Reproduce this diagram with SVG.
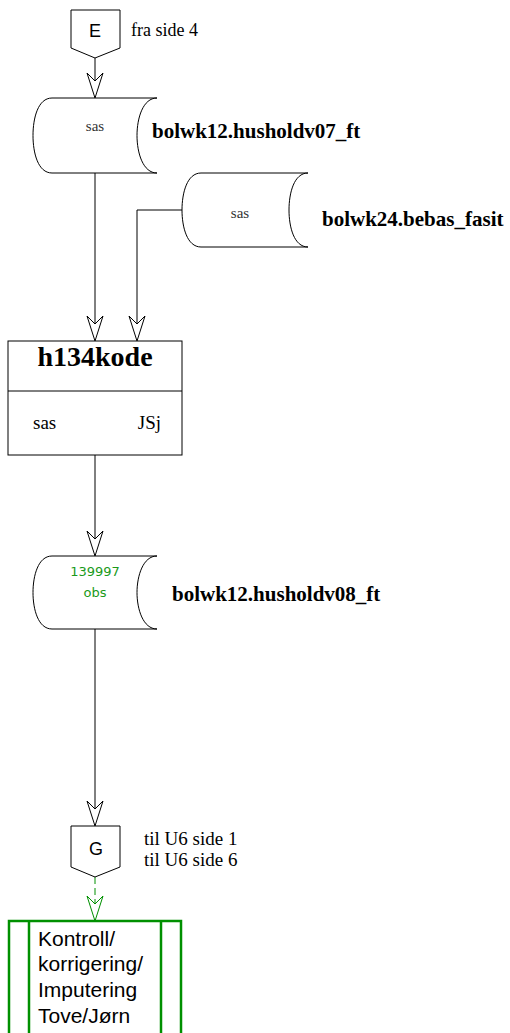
<svg xmlns="http://www.w3.org/2000/svg" width="510" height="1033" viewBox="0 0 510 1033">
<defs>
<style>
.sh{fill:#fff;stroke:#000;stroke-width:1}
.ln{fill:none;stroke:#000;stroke-width:1}
.gln{fill:none;stroke:#009000;stroke-width:1;stroke-dasharray:7,4}
.ah{fill:#fff;stroke:#000;stroke-width:1}
.gah{fill:#fff;stroke:#009000;stroke-width:1}
.serif{font-family:"Liberation Serif","Times New Roman",serif;fill:#000}
.sans{font-family:"Liberation Sans",Arial,sans-serif;fill:#000}
.lbl{font-family:"Liberation Serif","Times New Roman",serif;font-weight:bold;font-size:21px;fill:#000}
.small{font-family:"Liberation Serif","Times New Roman",serif;font-size:15px;fill:#333}
.green{font-family:"DejaVu Sans",Verdana,sans-serif;font-size:13px;fill:#1a9a1a}
</style>
<polygon id="arr" points="0,0 -8,-25 0,-17 8,-25"/>
</defs>

<g id="connectors">
<line class="ln" x1="95" y1="58" x2="95" y2="81"/>
<use href="#arr" class="ah" x="95" y="98"/>
<line class="ln" x1="95" y1="173" x2="95" y2="324"/>
<use href="#arr" class="ah" x="95" y="341"/>
<polyline class="ln" points="182,210 137,210 137,324"/>
<use href="#arr" class="ah" x="137" y="341"/>
<line class="ln" x1="95" y1="455" x2="95" y2="539"/>
<use href="#arr" class="ah" x="95" y="556"/>
<line class="ln" x1="95" y1="629" x2="95" y2="809"/>
<use href="#arr" class="ah" x="95" y="826"/>
<line class="gln" x1="95" y1="877" x2="95" y2="904"/>
<use href="#arr" class="gah" x="95" y="921"/>
</g>

<g id="E">
<polygon class="sh" points="71,10 120,10 120,48 95,58 71,48"/>
<text class="sans" x="95" y="37" font-size="18" text-anchor="middle">E</text>
<text class="serif" x="131" y="36" font-size="18">fra side 4</text>
</g>

<g id="ds1">
<path class="sh" d="M157,98 L52,98 C38,98 33,118 33,135.5 C33,153 38,173 52,173 L157,173"/>
<path class="ln" d="M157,98 C143,98 137,118 137,135.5 C137,153 143,173 157,173"/>
<text class="small" x="95" y="131" text-anchor="middle">sas</text>
<text class="lbl" x="152" y="138">bolwk12.husholdv07_ft</text>
</g>

<g id="ds2">
<path class="sh" d="M308,173 L201,173 C187,173 182,193 182,210 C182,227 187,247 201,247 L308,247"/>
<path class="ln" d="M308,173 C294,173 289,193 289,210 C289,227 294,247 308,247"/>
<text class="small" x="240" y="218" text-anchor="middle">sas</text>
<text class="lbl" x="322" y="226">bolwk24.bebas_fasit</text>
</g>

<g id="h134kode">
<rect class="sh" x="8" y="341" width="174" height="114"/>
<line class="ln" x1="8" y1="391" x2="182" y2="391"/>
<text class="serif" x="95" y="366" font-size="28" font-weight="bold" text-anchor="middle">h134kode</text>
<text class="serif" x="33" y="429" font-size="19">sas</text>
<text class="serif" x="161" y="429" font-size="19" text-anchor="end">JSj</text>
</g>

<g id="ds3">
<path class="sh" d="M157,556 L52,556 C38,556 33,576 33,592.5 C33,609 38,629 52,629 L157,629"/>
<path class="ln" d="M157,556 C143,556 137,576 137,592.5 C137,609 143,629 157,629"/>
<text class="green" x="95" y="576" text-anchor="middle">139997</text>
<text class="green" x="95" y="597" text-anchor="middle">obs</text>
<text class="lbl" x="172" y="601">bolwk12.husholdv08_ft</text>
</g>

<g id="G">
<polygon class="sh" points="71,826 120,826 120,867 95,877 71,867"/>
<text class="sans" x="96" y="855" font-size="18" text-anchor="middle">G</text>
<text class="serif" x="144" y="845" font-size="19">til U6 side 1</text>
<text class="serif" x="144" y="866" font-size="19">til U6 side 6</text>
</g>

<g id="kontroll">
<rect x="9" y="921" width="172" height="130" fill="#fff" stroke="#009000" stroke-width="2.5"/>
<line x1="29" y1="921" x2="29" y2="1040" stroke="#009000" stroke-width="2.5"/>
<line x1="161" y1="921" x2="161" y2="1040" stroke="#009000" stroke-width="2.5"/>
<text class="sans" x="38" y="946" font-size="21">Kontroll/</text>
<text class="sans" x="38" y="971" font-size="21">korrigering/</text>
<text class="sans" x="38" y="997" font-size="21">Imputering</text>
<text class="sans" x="38" y="1023" font-size="21">Tove/Jørn</text>
</g>
</svg>
